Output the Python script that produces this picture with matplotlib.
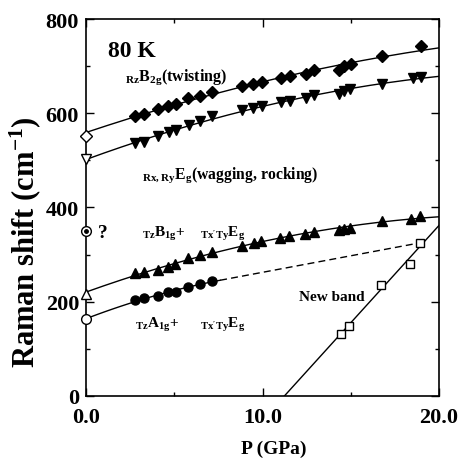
import numpy as np
import matplotlib
matplotlib.use('Agg')
from matplotlib import pyplot as plt

# 字体设置
plt.rcParams['font.family'] = ['Liberation Serif', 'DejaVu Serif']
plt.rcParams['font.weight'] = 'bold'
plt.rcParams['mathtext.fontset'] = 'custom'
plt.rcParams['mathtext.default'] = 'regular'

# B2g (twisting) 数据
p_b2g = [2.78, 3.30, 4.09, 4.66, 5.11, 5.80, 6.48, 7.16, 8.85, 9.47, 9.98,
         11.02, 11.55, 12.44, 12.91, 14.34, 14.62, 15.0, 16.76, 18.98]
r_b2g = [594, 598, 609, 615, 620, 632, 637, 646, 657, 662, 666,
         674, 678, 683, 692, 692, 701, 705, 721, 742]

# Eg (wagging, rocking) 数据
p_eg = [2.78, 3.31, 4.09, 4.68, 5.10, 5.81, 6.48, 7.14, 8.85, 9.47, 9.98,
        11.02, 11.55, 12.44, 12.91, 14.34, 14.62, 14.95, 16.76, 18.5, 18.98]
r_eg = [537, 540, 551, 560, 565, 575, 583, 594, 606, 611, 616,
        623, 627, 632, 639, 641, 648, 652, 662, 675, 676]

# B1g + Eg 数据
p_b1g = [2.75, 3.26, 4.07, 4.62, 5.06, 5.76, 6.44, 7.14, 8.85, 9.51, 9.94,
         10.98, 11.49, 12.40, 12.91, 14.34, 14.62, 14.96, 16.76, 18.41, 18.94]
r_b1g = [261, 263, 268, 273, 280, 293, 299, 306, 318, 324, 328,
         335, 339, 344, 349, 353, 355, 357, 372, 376, 381]

# A1g + Eg 数据
p_a1g = [2.78, 3.30, 4.09, 4.66, 5.11, 5.80, 6.48, 7.16]
r_a1g = [204, 207, 213, 220, 221, 232, 238, 243]

# 新谱带数据
p_new = [14.47, 14.90, 16.70, 18.37, 18.92]
r_new = [132, 149, 236, 280, 325]

# 常压数据 (空心点)
r0_b2g = 551
r0_eg = 503
r0_b1g = 216
r0_a1g = 163
r0_unknown = 350

fig = plt.figure(figsize=(4.59, 4.60), dpi=100)
ax = fig.add_axes([0.1874, 0.137, 0.769, 0.8195])

pp = np.linspace(0, 20, 200)


def fit_curve(p, r, r0, deg=2):
    x = np.concatenate([[0.0], p])
    y = np.concatenate([[r0], r])
    return np.poly1d(np.polyfit(x, y, deg))


# 拟合曲线
for p, r, r0 in [(p_b2g, r_b2g, r0_b2g), (p_eg, r_eg, r0_eg),
                 (p_b1g, r_b1g, r0_b1g)]:
    f = fit_curve(p, r, r0)
    ax.plot(pp, f(pp), color='black', lw=1.0)

f_a1g = fit_curve(p_a1g, r_a1g, r0_a1g)
pa = np.linspace(0, 7.6, 60)
ax.plot(pa, f_a1g(pa), color='black', lw=1.0)
ax.plot([7.6, p_new[-1]], [f_a1g(7.6), r_new[-1]], color='black', lw=1.0,
        ls=(0, (5, 3)))

k, b = np.polyfit(p_new, r_new, 1)
pn = np.array([-b / k, 20])
ax.plot(pn, k * pn + b, color='black', lw=1.0)

# 数据点
ax.plot(p_b2g, r_b2g, 'D', color='black', ms=6.3, zorder=3)
ax.plot(p_eg, r_eg, 'v', color='black', ms=7.5, zorder=3)
ax.plot(p_b1g, r_b1g, '^', color='black', ms=7.5, zorder=3)
ax.plot(p_a1g, r_a1g, 'o', color='black', ms=6.5, zorder=3)
ax.plot(p_new, r_new, 's', mfc='white', mec='black', mew=1.0, ms=6, zorder=3)

# 常压空心点
kw = dict(mfc='white', mec='black', mew=1.0, clip_on=False, zorder=4)
ax.plot([0], [r0_b2g], 'D', ms=6.3, **kw)
ax.plot([0], [r0_eg], 'v', ms=7.5, **kw)
ax.plot([0], [r0_b1g], '^', ms=7.5, **kw)
ax.plot([0], [r0_a1g], 'o', ms=7, **kw)
ax.plot([0], [r0_unknown], 'o', ms=7, **kw)
ax.plot([0], [r0_unknown], 'o', color='black', ms=2.5, clip_on=False, zorder=5)

# 文字标注
ax.text(1.25, 733, '80 K', fontsize=17, va='center')
ax.text(0.7, 346, '?', fontsize=14, va='center')
ax.text(2.2, 671, '${}_{Rz}$B$_{2g}$(twisting)', fontsize=11.5)
ax.text(3.2, 464, '${}_{Rx,Ry}$E$_{g}$(wagging, rocking)', fontsize=11.3)
ax.text(3.16, 340, '${}_{Tz}$B$_{1g}$+', fontsize=11)
ax.text(6.48, 340, "${}_{Tx'Ty}$E$_{g}$", fontsize=11)
ax.text(2.78, 146, '${}_{Tz}$A$_{1g}$+', fontsize=11)
ax.text(6.48, 146, "${}_{Tx'Ty}$E$_{g}$", fontsize=11)
ax.text(12.06, 211, 'New band', fontsize=11, va='center')

# 坐标轴
ax.set_xlim(0, 20)
ax.set_ylim(0, 800)
ax.set_xticks([0, 10, 20])
ax.set_xticklabels(['0.0', '10.0', '20.0'])
ax.set_xticks([5, 15], minor=True)
ax.set_yticks([0, 200, 400, 600, 800])
ax.set_yticks([100, 300, 500, 700], minor=True)
ax.tick_params(which='both', direction='in', top=True, right=True,
               labelsize=16, width=1.0)
ax.tick_params(which='major', length=5.5)
ax.tick_params(which='minor', length=3)
ax.tick_params(axis='x', pad=8)
ax.tick_params(axis='y', pad=5)
for s in ax.spines.values():
    s.set_linewidth(1.2)

fig.text(0.055, 0.474, 'Raman shift (cm$^{-1}$)', rotation=90, fontsize=22,
         ha='center', va='center')
fig.text(0.597, 0.024, 'P (GPa)', fontsize=14, ha='center', va='center')

fig.savefig('out.png', dpi=100)
